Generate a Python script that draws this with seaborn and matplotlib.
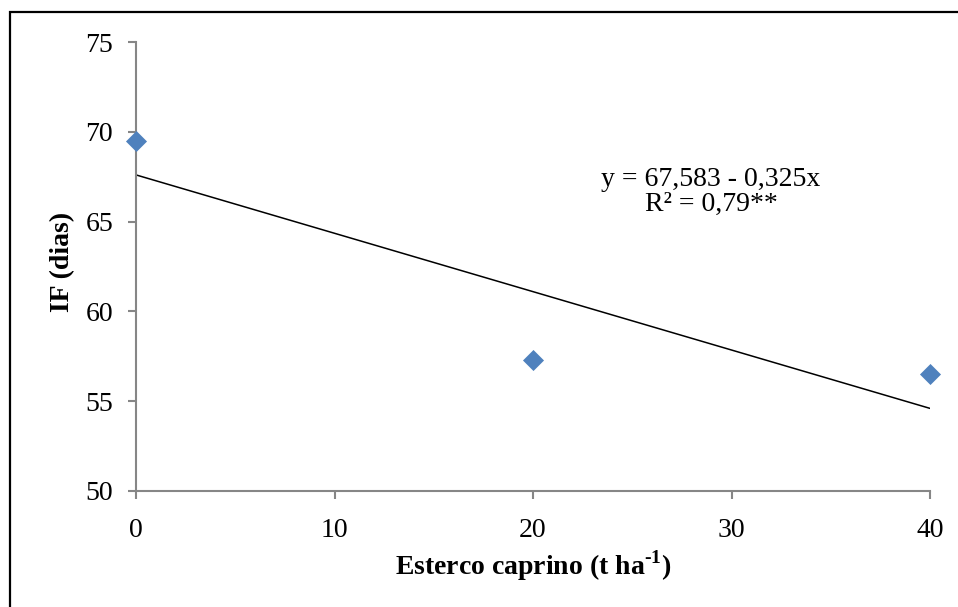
import matplotlib
matplotlib.use("Agg")
import matplotlib.pyplot as plt
import matplotlib.patches as mpatches
import seaborn as sns
import pandas as pd

# Data
esterco = [0, 20, 40]
if_dias = [69.5, 57.3, 56.5]
x_ticks = [0, 10, 20, 30, 40]
y_ticks = [50, 55, 60, 65, 70, 75]
equation = "y = 67,583 - 0,325x\nR² = 0,79**"

sns.set_theme(style="white")
plt.rcParams['font.family'] = ['Liberation Serif', 'DejaVu Serif']
plt.rcParams['mathtext.fontset'] = 'custom'
plt.rcParams['mathtext.rm'] = 'Liberation Serif:bold'
plt.rcParams['mathtext.bf'] = 'Liberation Serif:bold'

df = pd.DataFrame({"x": esterco, "y": if_dias})

W, H = 958, 607
FS = 20
fig = plt.figure(figsize=(W / 100, H / 100), dpi=100)
ax = fig.add_axes([136 / W, 1 - 491 / H, (930 - 136) / W, (491 - 42) / H])

sns.regplot(data=df, x="x", y="y", ci=None, scatter=False, ax=ax,
            line_kws=dict(color="black", lw=1.1))
sns.scatterplot(data=df, x="x", y="y", marker="D", s=115, color="#4F81BD",
                linewidth=0, ax=ax, clip_on=False, zorder=5)

ax.set_xlim(0, 40)
ax.set_ylim(50, 75)
ax.set_xticks(x_ticks)
ax.set_yticks(y_ticks)
ax.set_xticklabels([str(v) for v in x_ticks])
ax.set_yticklabels([str(v) for v in y_ticks])

for side in ["top", "right"]:
    ax.spines[side].set_visible(False)
for side in ["left", "bottom"]:
    ax.spines[side].set_color("#868686")
    ax.spines[side].set_linewidth(1.5)

ax.tick_params(axis="both", which="major", direction="out", length=5.5,
               width=1.5, color="#868686", labelsize=FS, labelcolor="black",
               left=True, bottom=True)
ax.tick_params(axis="x", pad=14)
ax.tick_params(axis="y", pad=11)

ax.set_xlabel(r"Esterco caprino (t ha$^{\text{-1}}$)", fontsize=FS,
              fontweight="bold", color="black")
ax.set_ylabel("IF (dias)", fontsize=FS, fontweight="bold", color="black")
ax.xaxis.set_label_coords(533 / W, 1 - 548 / H, transform=fig.transFigure)
ax.yaxis.set_label_coords(75 / W, 1 - 262 / H, transform=fig.transFigure)

fig.text(711 / W, 1 - 192 / H, equation, ha="center", va="center",
         multialignment="center", fontsize=FS, linespacing=1.03, color="black")

rect = mpatches.Rectangle((10 / W, -0.1), 1.1, 1 - 12 / H + 0.1,
                          transform=fig.transFigure, fill=False,
                          edgecolor="black", linewidth=1.6, clip_on=False)
fig.add_artist(rect)

fig.savefig("out.png", dpi=100, facecolor="white")
